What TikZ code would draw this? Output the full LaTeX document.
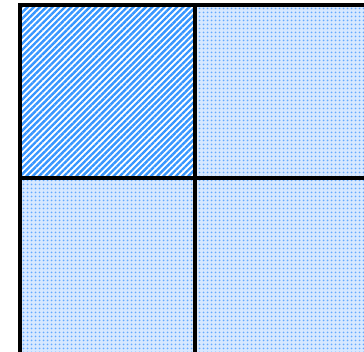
\documentclass[tikz,border=0pt]{standalone}
\usetikzlibrary{patterns.meta}
\definecolor{stripeblue}{RGB}{55,150,255}
\definecolor{dotblue}{RGB}{100,170,255}
\definecolor{dotbg}{RGB}{215,232,255}
\tikzset{
  gridline/.style={line width=3.6pt, black},
  stripecell/.style={pattern={Lines[angle=45, distance=4.4pt, line width=2.4pt]}, pattern color=stripeblue},
  dotcell/.style={pattern={Dots[distance=4pt, radius=1.2pt]}, pattern color=dotblue}
}
\begin{document}
\begin{tikzpicture}[x=1pt,y=-1pt]
\useasboundingbox (0,0) rectangle (364,352);
\clip (0,0) rectangle (364,352);
\fill[white] (0,0) rectangle (364,352);
% cells
\fill[dotbg] (20,5) rectangle (380,370);
\path[dotcell] (20,5) rectangle (380,370);
\fill[white] (20,5) rectangle (195,178);
\path[stripecell] (20,5) rectangle (195,178);
% grid
\coordinate (tl) at (20,5);
\coordinate (tr) at (380,5);
\coordinate (ml) at (20,178);
\coordinate (mr) at (380,178);
\coordinate (bl) at (20,370);
\coordinate (tm) at (195,5);
\coordinate (bm) at (195,370);
\draw[gridline] (tr) -- (tl) -- (bl);
\draw[gridline] (ml) -- (mr);
\draw[gridline] (tm) -- (bm);
\end{tikzpicture}
\end{document}
